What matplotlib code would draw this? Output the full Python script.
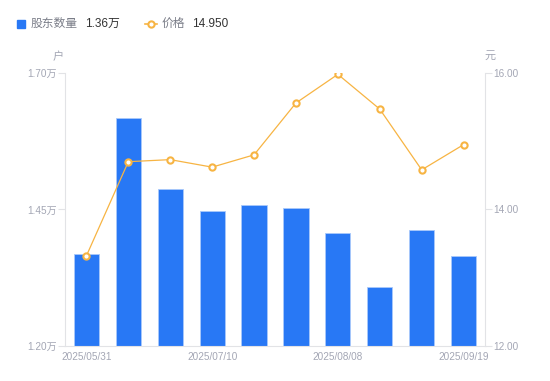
import matplotlib
matplotlib.use("Agg")
import matplotlib.pyplot as plt
from matplotlib.lines import Line2D
from matplotlib.patches import Rectangle

plt.rcParams['font.family'] = ['Liberation Sans', 'Noto Sans CJK SC', 'DejaVu Sans']

# data (holders in 万户, price in 元)
dates = ['2025/05/31', '2025/06/10', '2025/06/20', '2025/07/10', '2025/07/20',
         '2025/07/31', '2025/08/08', '2025/08/20', '2025/08/31', '2025/09/19']
holders = [1.368, 1.618, 1.488, 1.447, 1.459, 1.453, 1.406, 1.308, 1.412, 1.364]
prices = [13.32, 14.70, 14.73, 14.62, 14.80, 15.56, 15.98, 15.47, 14.58, 14.95]
shown_idx = [0, 3, 6, 9]
left_ticks = [1.20, 1.45, 1.70]
right_ticks = [12.0, 14.0, 16.0]

blue = '#2878f5'
orange = '#f7b443'
grey_txt = '#a3a6b4'
axis_col = '#e2e3e6'

fig = plt.figure(figsize=(5.5, 3.81), dpi=100)
ax = fig.add_axes([0.119, 0.092, 0.762, 0.7165])
x = list(range(len(holders)))
ax.bar(x, holders, width=0.6, color=blue, edgecolor='#a9c9fb', linewidth=0.6, zorder=2)
ax.set_xlim(-0.5, len(holders) - 0.5)
ax.set_ylim(left_ticks[0], left_ticks[-1])
ax.set_yticks(left_ticks)
ax.set_yticklabels(['%.2f万' % v for v in left_ticks])
ax.set_xticks(shown_idx)
ax.set_xticklabels([dates[i] for i in shown_idx])
ax.tick_params(axis='x', length=0, pad=4, labelsize=7.2, labelcolor=grey_txt)
ax.tick_params(axis='y', length=5, width=0.8, color=axis_col, pad=1,
               labelsize=7.2, labelcolor=grey_txt)
for s in ['top', 'right']:
    ax.spines[s].set_visible(False)
for s in ['left', 'bottom']:
    ax.spines[s].set_color(axis_col)
    ax.spines[s].set_linewidth(0.8)

ax2 = ax.twinx()
ax2.plot(x, prices, color=orange, lw=0.9, marker='o', markersize=4.5,
         markerfacecolor='white', markeredgecolor=orange, markeredgewidth=1.5, zorder=3)
ax2.set_ylim(right_ticks[0], right_ticks[-1])
ax2.set_yticks(right_ticks)
ax2.set_yticklabels(['%.2f' % v for v in right_ticks])
ax2.tick_params(axis='y', length=5, width=0.8, color=axis_col, pad=1,
                labelsize=7.2, labelcolor=grey_txt)
for s in ['top', 'left', 'bottom']:
    ax2.spines[s].set_visible(False)
ax2.spines['right'].set_color(axis_col)
ax2.spines['right'].set_linewidth(0.8)

# unit labels
fig.text(58 / 550, 1 - 57 / 381, '户', ha='center', va='center', fontsize=8, color=grey_txt)
fig.text(490 / 550, 1 - 56 / 381, '元', ha='center', va='center', fontsize=8, color=grey_txt)

# legend row
ly = 1 - 24 / 381
fig.add_artist(Rectangle((17 / 550, ly - 4 / 381), 8 / 550, 8 / 381,
                         transform=fig.transFigure, color=blue))
fig.text(31 / 550, ly, '股东数量', va='center', fontsize=8.5, color='#7a7d88')
fig.text(85 / 550, ly, '%.2f万' % holders[-1], va='center', fontsize=8.5, color='#333333')
fig.add_artist(Line2D([145 / 550, 157 / 550], [ly, ly], transform=fig.transFigure,
                      color=orange, lw=1.2))
fig.add_artist(Line2D([151 / 550], [ly], transform=fig.transFigure, marker='o',
                      markersize=4.5, markerfacecolor='white', markeredgecolor=orange,
                      markeredgewidth=1.5))
fig.text(162 / 550, ly, '价格', va='center', fontsize=8.5, color='#7a7d88')
fig.text(192 / 550, ly, '%.3f' % prices[-1], va='center', fontsize=8.5, color='#333333')

fig.savefig('out.png', dpi=100)
